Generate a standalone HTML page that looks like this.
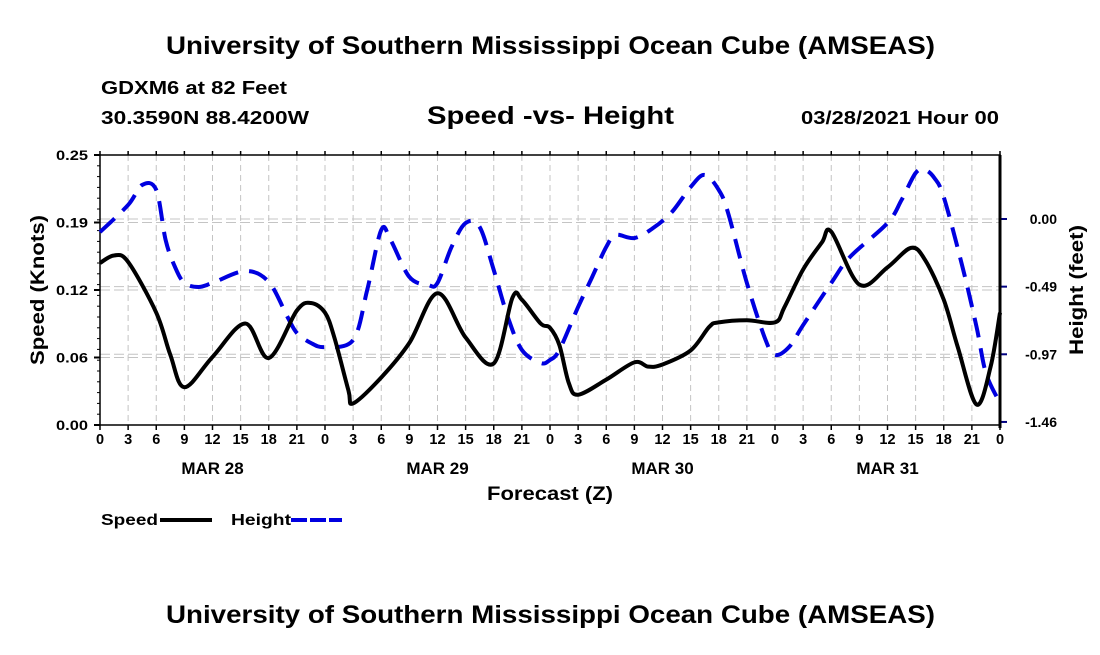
<!DOCTYPE html>
<html><head><meta charset="utf-8"><style>
body{margin:0;background:#fff;width:1100px;height:650px;overflow:hidden}
svg text{font-family:"Liberation Sans",sans-serif;font-weight:bold;fill:#000}
</style></head><body>
<svg id="chart" width="1100" height="650" xmlns="http://www.w3.org/2000/svg">
<text x="166" y="54" font-size="25" textLength="769" lengthAdjust="spacingAndGlyphs">University of Southern Mississippi Ocean Cube (AMSEAS)</text>
<text x="101" y="94" font-size="18" textLength="186" lengthAdjust="spacingAndGlyphs">GDXM6 at 82 Feet</text>
<text x="101" y="124" font-size="18" textLength="208" lengthAdjust="spacingAndGlyphs">30.3590N  88.4200W</text>
<text x="427" y="124" font-size="25" textLength="247" lengthAdjust="spacingAndGlyphs">Speed -vs- Height</text>
<text x="801" y="124" font-size="18" textLength="198" lengthAdjust="spacingAndGlyphs">03/28/2021 Hour 00</text>
<g id="grid"></g>
<g id="axes"></g>
<g id="series"></g>
<text x="487" y="500" font-size="19" textLength="126" lengthAdjust="spacingAndGlyphs">Forecast (Z)</text>
<text transform="translate(44,365) rotate(-90)" font-size="19" textLength="150" lengthAdjust="spacingAndGlyphs">Speed (Knots)</text>
<text transform="translate(1083,355) rotate(-90)" font-size="19" textLength="130" lengthAdjust="spacingAndGlyphs">Height (feet)</text>
<g>
<text x="101" y="525" font-size="16" textLength="57" lengthAdjust="spacingAndGlyphs">Speed</text>
<line x1="160" y1="520" x2="212" y2="520" stroke="#000" stroke-width="4"/>
<text x="231" y="525" font-size="16" textLength="60" lengthAdjust="spacingAndGlyphs">Height</text>
<line x1="291" y1="520" x2="342" y2="520" stroke="#0000e0" stroke-width="4" stroke-dasharray="16,3"/>
</g>
<text x="166" y="623" font-size="25" textLength="769" lengthAdjust="spacingAndGlyphs">University of Southern Mississippi Ocean Cube (AMSEAS)</text>
</svg>
<script>
const speedHours=[0,1.5,3,6,7.5,9,12,15.5,18,21,22.5,24,25,26.5,27,30,33,36,39,42,44,45,47,48,49,50,51,54,57,58.5,60,63,65,66,69,72,73,75,77,78,81,84,86.5,88,90,91.5,93.5,95,96];
const speedValues=[0.150,0.157,0.151,0.104,0.065,0.035,0.063,0.094,0.062,0.106,0.113,0.104,0.081,0.032,0.020,0.044,0.076,0.122,0.081,0.057,0.118,0.116,0.094,0.090,0.074,0.039,0.028,0.042,0.058,0.054,0.056,0.069,0.091,0.095,0.097,0.095,0.109,0.144,0.169,0.179,0.130,0.146,0.164,0.153,0.116,0.072,0.019,0.054,0.104];
const heightHours=[0,3,4.5,6,7,8,9,10.5,12,15.5,18,20,21,22.5,24,27,28.5,30,31,33,35,36,37.5,39,40.5,42,43.5,45,47,48,49,51,52.5,54,55,57,59,61,63,64.5,66,67,69,71,72,73.5,75,78,80,84,85.5,87,88,89,90,92,93.5,94.5,96];
const heightValues=[-0.094,0.101,0.245,0.209,-0.151,-0.345,-0.460,-0.489,-0.460,-0.374,-0.453,-0.705,-0.820,-0.892,-0.921,-0.871,-0.511,-0.079,-0.151,-0.417,-0.475,-0.460,-0.201,-0.029,-0.058,-0.367,-0.705,-0.942,-1.036,-1.014,-0.942,-0.633,-0.417,-0.201,-0.115,-0.137,-0.065,0.050,0.230,0.317,0.209,0.043,-0.460,-0.871,-0.978,-0.921,-0.763,-0.460,-0.273,-0.029,0.137,0.331,0.353,0.295,0.158,-0.345,-0.777,-1.108,-1.324];
const speedTicks=[0,0.0625,0.125,0.1875,0.25];
const speedTickLabels=["0.00","0.06","0.12","0.19","0.25"];
const heightTicks=[0,-0.4867,-0.9733,-1.46];
const heightTickLabels=["0.00","-0.49","-0.97","-1.46"];
const hourLabels=["0","3","6","9","12","15","18","21"];
const dayLabels=["MAR 28","MAR 29","MAR 30","MAR 31"];

const NS="http://www.w3.org/2000/svg";
const L=100,R=1000,T=155,B=425;
const xS=h=>L+(R-L)*h/96;
const yS=v=>B-(B-T)*v/0.25;
const yH=v=>219-139*v;
function mk(tag,attrs,parent){const e=document.createElementNS(NS,tag);for(const k in attrs)e.setAttribute(k,attrs[k]);parent.appendChild(e);return e;}
const grid=document.getElementById('grid'),axes=document.getElementById('axes'),series=document.getElementById('series');
for(let h=3;h<96;h+=3){
 const g=mk('line',{x1:xS(h),x2:xS(h),y1:T,y2:B,stroke:'#c4c4c4','stroke-dasharray':'6,4','stroke-width':1},grid);
 
 
}
speedTicks.forEach((v,i)=>{
 if(v>0&&v<0.25){const g=mk('line',{x1:L,x2:R,y1:yS(v),y2:yS(v),stroke:'#c4c4c4','stroke-dasharray':'10,4'},grid);
 
 }
 const t=mk('text',{x:L-12,y:yS(v)+5,'font-size':14,'text-anchor':'end',textLength:32,lengthAdjust:'spacingAndGlyphs'},axes);t.textContent=speedTickLabels[i];
 
 
 mk('line',{x1:L-6,x2:L,y1:yS(v),y2:yS(v),stroke:'#000','stroke-width':2},axes);
});
for(let k=0;k<=25;k++){mk('line',{x1:L-3,x2:L,y1:yS(k*0.01),y2:yS(k*0.01),stroke:'#000'},axes);}
heightTicks.forEach((v,i)=>{
 if(v<=0&&v>-1.46){const g=mk('line',{x1:L,x2:R,y1:yH(v),y2:yH(v),stroke:'#c4c4c4','stroke-dasharray':'10,4'},grid);
 
 }
 mk('line',{x1:R,x2:R+7,y1:yH(v),y2:yH(v),stroke:'#000080','stroke-width':2},axes);
 const t=mk('text',{x:1057,y:yH(v)+5,'font-size':14,'text-anchor':'end'},axes);t.textContent=heightTickLabels[i];
 
 
});
mk('rect',{x:L,y:T,width:R-L,height:B-T,fill:'none',stroke:'#000','stroke-width':1.5},axes);
mk('line',{x1:R,x2:R,y1:T,y2:B+3,stroke:'#000','stroke-width':3},axes);
for(let h=0;h<=96;h+=3){
 mk('line',{x1:xS(h),x2:xS(h),y1:B,y2:B+5,stroke:'#000','stroke-width':1.5},axes);
 mk('line',{x1:xS(h),x2:xS(h),y1:T,y2:T-4,stroke:'#000','stroke-width':1.5},axes);
 const t=mk('text',{x:xS(h),y:B+19,'font-size':14.5,'text-anchor':'middle'},axes);t.textContent=hourLabels[(h/3)%8];
 
 
}
dayLabels.forEach((d,i)=>{const t=mk('text',{x:xS(i*24+12),y:474,'font-size':17,'text-anchor':'middle'},axes);t.textContent=d;
 
 });
function smooth(pts){let d='M'+pts[0][0]+','+pts[0][1];
 for(let i=0;i<pts.length-1;i++){const p0=pts[i-1]||pts[i],p1=pts[i],p2=pts[i+1],p3=pts[i+2]||p2;
  d+=' C'+(p1[0]+(p2[0]-p0[0])/6)+','+(p1[1]+(p2[1]-p0[1])/6)+' '+(p2[0]-(p3[0]-p1[0])/6)+','+(p2[1]-(p3[1]-p1[1])/6)+' '+p2[0]+','+p2[1];}
 return d;}
const hp=mk('path',{d:smooth(heightHours.map((h,i)=>[xS(h),yH(heightValues[i])])),fill:'none',stroke:'#0000e0','stroke-width':4,'stroke-dasharray':'20,11'},series);


const sp=mk('path',{d:smooth(speedHours.map((h,i)=>[xS(h),yS(speedValues[i])])),fill:'none',stroke:'#000','stroke-width':4},series);


</script>
</body></html>
